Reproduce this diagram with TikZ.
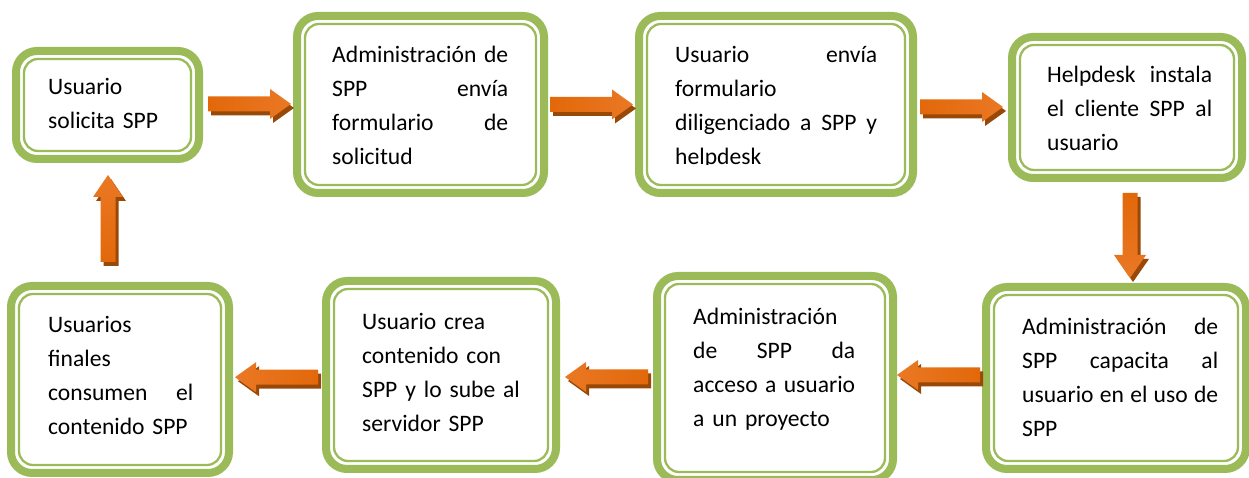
\documentclass[tikz,border=0pt]{standalone}
\usepackage{fontspec}
\setmainfont{Carlito}
\usetikzlibrary{calc}
\definecolor{sppgreen}{RGB}{155,187,89}
\definecolor{arrdark}{RGB}{226,104,10}
\definecolor{arrlight}{RGB}{247,158,88}
\definecolor{arrmid}{RGB}{234,120,36}
\definecolor{arrshadow}{RGB}{152,72,7}
\begin{document}
\begin{tikzpicture}[x=1pt,y=1pt,
  frame/.style={draw=sppgreen, line width=8pt, rounded corners=21pt, fill=white,
    outer sep=0pt, inner sep=0pt, rectangle},
  innerline/.style={draw=sppgreen, line width=2.3pt, rounded corners=14pt},
  txt/.style={anchor=base west, inner sep=0pt, align=left, text width=#1,
    font=\fontsize{23.6}{34}\selectfont},
  shadowfill/.style={fill=arrshadow},
  rshade/.style={left color=arrdark, middle color=arrlight, right color=arrmid},
  lshade/.style={right color=arrdark, middle color=arrlight, left color=arrmid},
  dshade/.style={top color=arrdark, middle color=arrlight, bottom color=arrmid},
  ushade/.style={bottom color=arrdark, middle color=arrlight, top color=arrmid},
]
\useasboundingbox (0,0) rectangle (1249,478);

% frames
\node[frame, minimum width=183pt, minimum height=108pt] (b1) at (107.5,373) {};
\node[frame, minimum width=247pt, minimum height=177pt] (b2) at (420.5,373.5) {};
\node[frame, minimum width=274pt, minimum height=177pt] (b3) at (776,373.5) {};
\node[frame, minimum width=230pt, minimum height=141pt] (b4) at (1127,370.5) {};
\node[frame, minimum width=260pt, minimum height=182pt] (b5) at (1116,100) {};
\node[frame, minimum width=236pt, minimum height=204pt] (b6) at (775,100) {};
\node[frame, minimum width=230pt, minimum height=188pt] (b7) at (441,103) {};
\node[frame, minimum width=218pt, minimum height=187pt] (b8) at (120,98.5) {};
\foreach \b in {b1,b2,b3,b4,b5,b6,b7,b8}{
  \draw[innerline] ([shift={(8,-8)}]\b.north west) rectangle ([shift={(-8,8)}]\b.south east);
}

% texts
\node[txt=120pt] (t1) at (48,383) {Usuario\\solicita SPP};
\node[txt=176pt] (t2) at (332,415) {Administración\hfill de\\SPP\hfill envía\\formulario\hfill de\\solicitud};
\begin{scope}
  \clip (630,313) rectangle (925,478);
  \node[txt=202pt] (t3) at (675,415) {Usuario\hfill envía\\formulario\\diligenciado\hfill a\hfill SPP\hfill y\\helpdesk};
\end{scope}
\node[txt=165pt] (t4) at (1047,395) {Helpdesk\hfill instala\\el\hfill cliente\hfill SPP\hfill al\\usuario};
\node[txt=196pt] (t5) at (1022,143) {Administración\hfill de\\SPP\hfill capacita\hfill al\\usuario\hfill en\hfill el\hfill uso\hfill de\\SPP};
\node[txt=162pt] (t6) at (693,153) {Administración\\de\hfill SPP\hfill da\\acceso\hfill a\hfill usuario\\a un proyecto};
\node[txt=175pt] (t7) at (362,148) {Usuario crea\\contenido con\\SPP y lo sube al\\servidor SPP};
\node[txt=145pt] (t8) at (48,145) {Usuarios\\finales\\consumen\hfill el\\contenido SPP};

% arrow positions between boxes
\coordinate (a12) at ($(b1.east)!0.5!(b2.west)+(1.5,0.75)$);
\coordinate (a23) at ($(b2.east)!0.5!(b3.west)$);
\coordinate (a34) at ($(b3.east)!0.5!(b4.west)+(-1,-1)$);
\coordinate (a45) at ($(b4.south)!0.5!(b5.north)+(8.5,-3)$);
\coordinate (a56) at ($(b5.west)!0.5!(b6.east)+(-1,3)$);
\coordinate (a67) at ($(b6.west)!0.5!(b7.east)+(0,-0.5)$);
\coordinate (a78) at ($(b7.west)!0.5!(b8.east)+(-1,0)$);
\coordinate (a81) at ($(b8.north)!0.5!(b1.south)+(-5.75,4)$);

% right arrows
\foreach \a in {a12,a23,a34}{
  \fill[shadowfill, shift={($(\a)+(3,-4)$)}] (-41.5,-7.5) -- (20.5,-7.5) -- (20.5,-15) -- (41.5,0) -- (20.5,15) -- (20.5,7.5) -- (-41.5,7.5) -- cycle;
  \shade[rshade, shift={(\a)}] (-41.5,-7.5) -- (20.5,-7.5) -- (20.5,-15) -- (41.5,0) -- (20.5,15) -- (20.5,7.5) -- (-41.5,7.5) -- cycle;
}
% left arrows
\foreach \a in {a56,a67,a78}{
  \fill[shadowfill, shift={($(\a)+(3,-4)$)}] (41.5,-7.5) -- (-20.5,-7.5) -- (-20.5,-15) -- (-41.5,0) -- (-20.5,15) -- (-20.5,7.5) -- (41.5,7.5) -- cycle;
  \shade[lshade, shift={(\a)}] (41.5,-7.5) -- (-20.5,-7.5) -- (-20.5,-15) -- (-41.5,0) -- (-20.5,15) -- (-20.5,7.5) -- (41.5,7.5) -- cycle;
}
% down arrow
\fill[shadowfill, shift={($(a45)+(3,-4)$)}] (-7.5,42.5) -- (-7.5,-19.5) -- (-16,-19.5) -- (0,-42.5) -- (16,-19.5) -- (7.5,-19.5) -- (7.5,42.5) -- cycle;
\shade[dshade, shift={(a45)}] (-7.5,42.5) -- (-7.5,-19.5) -- (-16,-19.5) -- (0,-42.5) -- (16,-19.5) -- (7.5,-19.5) -- (7.5,42.5) -- cycle;
% up arrow
\fill[shadowfill, shift={($(a81)+(3,-4)$)}] (-7.5,-43.5) -- (-7.5,21.5) -- (-15,21.5) -- (0,43.5) -- (15,21.5) -- (7.5,21.5) -- (7.5,-43.5) -- cycle;
\shade[ushade, shift={(a81)}] (-7.5,-43.5) -- (-7.5,21.5) -- (-15,21.5) -- (0,43.5) -- (15,21.5) -- (7.5,21.5) -- (7.5,-43.5) -- cycle;
\end{tikzpicture}
\end{document}
